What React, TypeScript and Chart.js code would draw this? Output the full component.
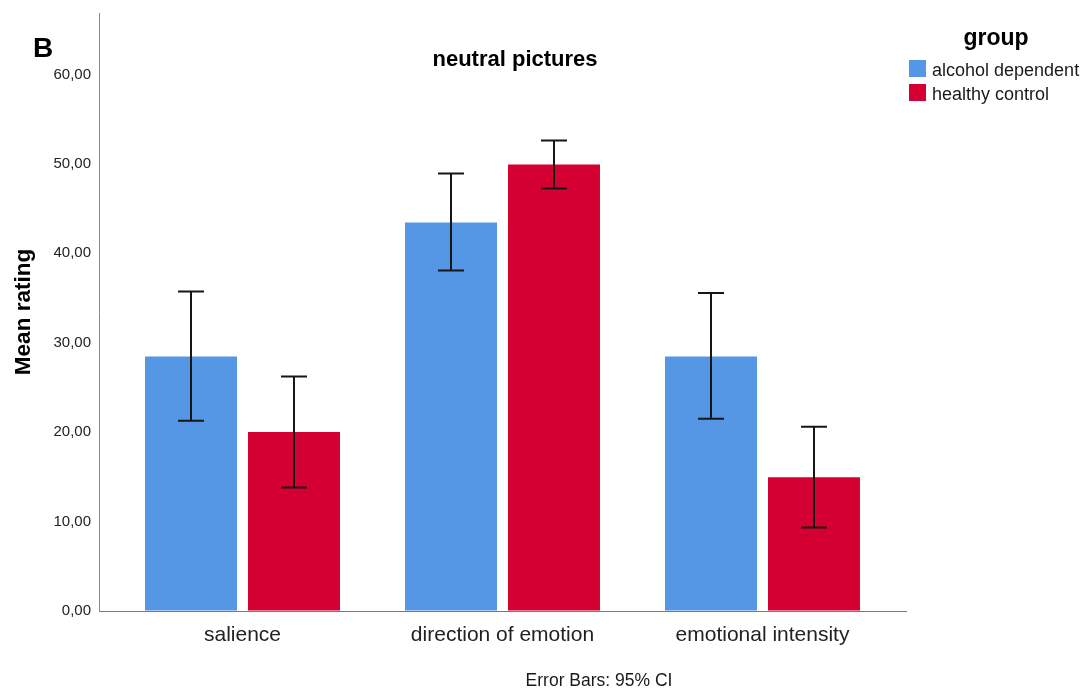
import { useEffect, useRef } from 'react';
import { Chart, registerables } from 'chart.js';

Chart.register(...registerables);

// Mean ratings and 95% confidence limits per rating dimension
const categories = ['salience', 'direction of emotion', 'emotional intensity'];
const seriesNames = ['alcohol dependent', 'healthy control'];
const seriesColors = ['#5596E5', '#D50032'];

const alcoholMeans = [28.47, 43.44, 28.47];
const alcoholLower = [21.28, 38.08, 21.51];
const alcoholUpper = [35.73, 48.92, 35.55];

const controlMeans = [20.02, 49.92, 14.95];
const controlLower = [13.8, 47.24, 9.33];
const controlUpper = [26.23, 52.6, 20.61];

const yTicks = [0, 10, 20, 30, 40, 50, 60];

const FONT = "'Liberation Sans', Arial, sans-serif";
const W = 1091;
const H = 689;

const ciBounds = [
  [alcoholLower, alcoholUpper],
  [controlLower, controlUpper],
];

// Draws the confidence-interval whiskers on top of each bar
const errorBarPlugin = {
  id: 'errorBars',
  afterDatasetsDraw(chart: any) {
    const { ctx } = chart;
    const yScale = chart.scales.y;
    ctx.save();
    ctx.strokeStyle = '#161616';
    ctx.lineWidth = 2;
    chart.data.datasets.forEach((_: any, i: number) => {
      const meta = chart.getDatasetMeta(i);
      meta.data.forEach((bar: any, j: number) => {
        const x = Math.round(bar.x);
        const yLo = yScale.getPixelForValue(ciBounds[i][0][j]);
        const yHi = yScale.getPixelForValue(ciBounds[i][1][j]);
        const half = 13;
        ctx.beginPath();
        ctx.moveTo(x, yLo);
        ctx.lineTo(x, yHi);
        ctx.moveTo(x - half, yLo);
        ctx.lineTo(x + half, yLo);
        ctx.moveTo(x - half, yHi);
        ctx.lineTo(x + half, yHi);
        ctx.stroke();
      });
    });
    ctx.restore();
  },
};

// Panel letter, heading, group legend and footnote
const decorationsPlugin = {
  id: 'decorations',
  afterDraw(chart: any) {
    const { ctx } = chart;
    ctx.save();
    ctx.fillStyle = '#000';
    ctx.textBaseline = 'alphabetic';

    ctx.font = `bold 28px ${FONT}`;
    ctx.textAlign = 'left';
    ctx.fillText('B', 33, 57);

    ctx.font = `bold 22px ${FONT}`;
    ctx.textAlign = 'center';
    ctx.fillText('neutral pictures', 515, 66);

    ctx.font = `bold 23px ${FONT}`;
    ctx.textAlign = 'center';
    ctx.fillText('group', 996, 45);

    ctx.font = `18px ${FONT}`;
    ctx.textAlign = 'left';
    ctx.textBaseline = 'middle';
    seriesNames.forEach((name, i) => {
      const top = 60 + i * 24;
      ctx.fillStyle = seriesColors[i];
      ctx.fillRect(909, top, 17, 17);
      ctx.fillStyle = '#1a1a1a';
      ctx.fillText(name, 932, top + 11);
    });

    ctx.font = `17.5px ${FONT}`;
    ctx.textAlign = 'center';
    ctx.textBaseline = 'alphabetic';
    ctx.fillStyle = '#1a1a1a';
    ctx.fillText('Error Bars: 95% CI', 599, 686);
    ctx.restore();
  },
};

export default function App() {
  const canvasRef = useRef<HTMLCanvasElement>(null);

  useEffect(() => {
    if (!canvasRef.current) return;
    const chart = new Chart(canvasRef.current, {
      type: 'bar',
      data: {
        datasets: [
          {
            label: seriesNames[0],
            data: alcoholMeans.map((v, i) => ({ x: i, y: v })),
            backgroundColor: seriesColors[0],
            borderWidth: 0,
          },
          {
            label: seriesNames[1],
            data: controlMeans.map((v, i) => ({ x: i, y: v })),
            backgroundColor: seriesColors[1],
            borderWidth: 0,
          },
        ],
      },
      options: {
        responsive: false,
        animation: false,
        devicePixelRatio: 1,
        categoryPercentage: 0.7923,
        barPercentage: 0.893,
        layout: { padding: { top: 13, right: 185, bottom: 0, left: 0 } },
        plugins: {
          legend: { display: false },
          title: { display: false },
          tooltip: { enabled: false },
        },
        scales: {
          x: {
            type: 'linear',
            min: -0.552,
            max: 2.552,
            offset: false,
            afterBuildTicks: (s: any) => {
              s.ticks = categories.map((_, i) => ({ value: i }));
            },
            afterFit: (s: any) => {
              s.height = 78;
              s.paddingLeft = 0;
              s.paddingRight = 0;
            },
            grid: { display: true, drawOnChartArea: false, drawTicks: false, offset: false },
            border: { display: true, color: '#7a7a7a', width: 1 },
            ticks: {
              autoSkip: false,
              maxRotation: 0,
              padding: 12,
              color: '#222',
              font: { family: FONT, size: 21 },
              callback: (v: any) => categories[v as number] ?? '',
            },
          },
          y: {
            type: 'linear',
            min: 0,
            max: 66.87,
            afterBuildTicks: (s: any) => {
              s.ticks = yTicks.map((v) => ({ value: v }));
            },
            afterFit: (s: any) => {
              s.width = 99;
              s.paddingTop = 0;
              s.paddingBottom = 0;
            },
            grid: { display: true, drawOnChartArea: false, drawTicks: false },
            border: { display: true, color: '#8a8a8a', width: 1 },
            ticks: {
              padding: 8,
              color: '#222',
              font: { family: FONT, size: 15 },
              callback: (v: any) => Number(v).toFixed(2).replace('.', ','),
            },
            title: {
              display: true,
              text: 'Mean rating',
              color: '#000',
              padding: 10.5,
              font: { family: FONT, size: 22.5, weight: 'bold' },
            },
          },
        },
      },
      plugins: [errorBarPlugin, decorationsPlugin],
    } as any);
    return () => chart.destroy();
  }, []);

  return (
    <div style={{ position: 'absolute', left: 0, top: 0, width: W, height: H, background: '#fff' }}>
      <canvas ref={canvasRef} width={W} height={H} style={{ display: 'block' }} />
    </div>
  );
}
